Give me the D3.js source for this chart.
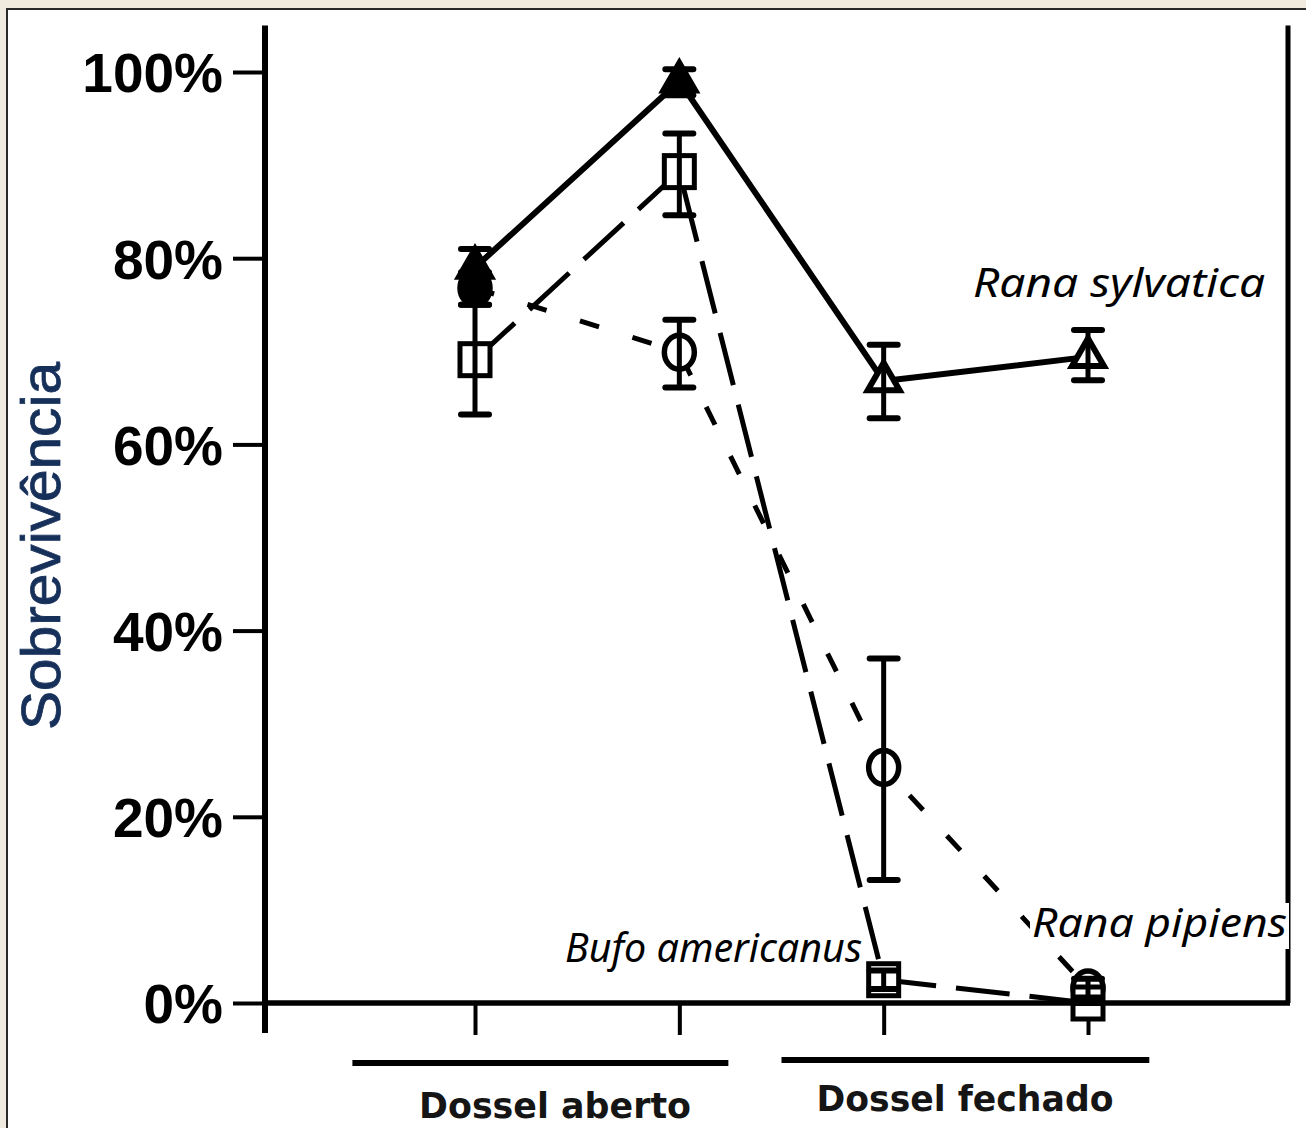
<!DOCTYPE html>
<html><head><meta charset="utf-8">
<script src="https://cdn.jsdelivr.net/npm/d3@7"></script>
<style>
html,body{margin:0;padding:0;background:#f1eadf;}
svg{display:block;}
</style></head>
<body>
<svg id="chart" width="1306" height="1128"></svg>
<script>
// ---- data ----
const sites = ["Aberto 1", "Aberto 2", "Fechado 1", "Fechado 2"];
const groups = ["Dossel aberto", "Dossel fechado"];
const groupSites = [["Aberto 1", "Aberto 2"], ["Fechado 1", "Fechado 2"]];
const yTicks = [0, 20, 40, 60, 80, 100];
const speciesNames = ["Rana sylvatica", "Bufo americanus", "Rana pipiens"];

const sylvatica   = [79.0, 99.0, 66.8, 69.4];
const sylvaticaLo = [77.0, 97.5, 62.8, 66.9];
const sylvaticaHi = [81.0, 100.3, 70.7, 72.3];

const bufo   = [69.1, 89.3, 2.5, 0.0];
const bufoLo = [63.2, 84.6, 1.5, 0.0];
const bufoHi = [75.0, 93.4, 3.5, 0.0];

const pipiens   = [76.8, 69.9, 25.3, 1.6];
const pipiensLo = [75.0, 66.1, 13.2, 0.6];
const pipiensHi = [78.5, 73.4, 37.0, 2.6];

// ---- layout ----
const svg = d3.select("#chart");
svg.append("rect").attr("x", 7).attr("y", 9).attr("width", 1310).attr("height", 1130)
  .attr("fill", "#ffffff").attr("stroke", "#2a2a2a").attr("stroke-width", 2);

const x = d3.scalePoint().domain(sites).range([475, 1088]);
const y = d3.scaleLinear().domain([0, 100]).range([1003, 72]);
const xLeft = 265, xRight = 1288;
const step = x.step();

const g = svg.append("g");

// frame lines
g.append("line").attr("x1", xLeft).attr("x2", xLeft).attr("y1", y(105)).attr("y2", y(0) + 30)
  .attr("stroke", "#000").attr("stroke-width", 6);
g.append("line").attr("x1", xRight).attr("x2", xRight).attr("y1", y(105)).attr("y2", y(0))
  .attr("stroke", "#000").attr("stroke-width", 5);
g.append("line").attr("x1", xLeft).attr("x2", xRight + 2).attr("y1", y(0)).attr("y2", y(0))
  .attr("stroke", "#000").attr("stroke-width", 5.5);

// y axis
const yAxis = d3.axisLeft(y).tickValues(yTicks).tickSize(32).tickPadding(10)
  .tickFormat(d => d + "%");
const ya = g.append("g").attr("transform", `translate(${xLeft},0)`).call(yAxis);
ya.select(".domain").remove();
ya.selectAll(".tick line").attr("stroke", "#000").attr("stroke-width", 4);
ya.selectAll(".tick text").attr("fill", "#000")
  .style("font-family", "'Liberation Sans', Arial, sans-serif")
  .style("font-size", "55px").style("font-weight", "bold")
  .attr("dy", "0.36em");

// x axis ticks
const xAxis = d3.axisBottom(x).tickSize(32).tickFormat("");
const xa = g.append("g").attr("transform", `translate(0,${y(0)})`).call(xAxis);
xa.select(".domain").remove();
xa.selectAll(".tick line").attr("stroke", "#000").attr("stroke-width", 4);

// group bars and labels
const groupExt = [[-0.6, 0.24], [-0.5, 0.3]];
const groupLabelY = [1118, 1111];
const groupBarY = [1063, 1060];
groups.forEach((name, i) => {
  const a = x(groupSites[i][0]) + groupExt[i][0] * step;
  const b = x(groupSites[i][1]) + groupExt[i][1] * step;
  g.append("line").attr("x1", a).attr("x2", b).attr("y1", groupBarY[i]).attr("y2", groupBarY[i])
    .attr("stroke", "#000").attr("stroke-width", 6);
  g.append("text").attr("x", i === 0 ? 555 : 965).attr("y", groupLabelY[i])
    .attr("text-anchor", "middle").attr("fill", "#151515")
    .style("font-family", "'DejaVu Sans', sans-serif").style("font-size", "36px")
    .style("font-weight", "bold")
    .attr("textLength", i === 0 ? 272 : 297).attr("lengthAdjust", "spacingAndGlyphs")
    .text(name);
});

// y label
g.append("text").attr("transform", "translate(60,546) rotate(-90)")
  .attr("text-anchor", "middle").attr("fill", "#16305a")
  .style("font-family", "'Liberation Sans', Arial, sans-serif").style("font-size", "56px")
  .attr("stroke", "#16305a").attr("stroke-width", 0.8)
  .attr("textLength", 368).attr("lengthAdjust", "spacingAndGlyphs")
  .text("Sobrevivência");

// series
const series = [
  {name: speciesNames[0], v: sylvatica, lo: sylvaticaLo, hi: sylvaticaHi, dash: null, w: 6, shape: "tri"},
  {name: speciesNames[1], v: bufo, lo: bufoLo, hi: bufoHi, dash: "54,20", w: 5, shape: "sq"},
  {name: speciesNames[2], v: pipiens, lo: pipiensLo, hi: pipiensHi, dash: "20,35", w: 5, shape: "circ"}
];

const line = d3.line().x((d, i) => x(sites[i])).y(d => y(d));
series.forEach(s => {
  g.append("path").attr("d", line(s.v)).attr("fill", "none").attr("stroke", "#000")
    .attr("stroke-width", s.w).attr("stroke-dasharray", s.dash).attr("stroke-linejoin", "round");
});

// markers
series.slice().reverse().forEach(s => {
  s.v.forEach((v, i) => {
    const cx = x(sites[i]), cy = y(v);
    if (s.shape === "tri") {
      const tri = d3.symbol().type(d3.symbolTriangle).size(440);
      g.append("path").attr("d", tri()).attr("transform", `translate(${cx},${cy})`)
        .attr("fill", i < 2 ? "#000" : "#fff").attr("stroke", "#000").attr("stroke-width", 6);
    } else if (s.shape === "sq") {
      g.append("rect").attr("x", cx - 15).attr("y", cy - 16).attr("width", 30).attr("height", 32)
        .attr("fill", "#fff").attr("stroke", "#000").attr("stroke-width", 5);
    } else {
      g.append("ellipse").attr("cx", cx).attr("cy", cy).attr("rx", 15).attr("ry", 17)
        .attr("fill", i === 0 ? "#000" : "#fff").attr("stroke", "#000").attr("stroke-width", 5.5);
    }
  });
});

// error bars
series.forEach(s => {
  s.v.forEach((v, i) => {
    const cx = x(sites[i]);
    const y1 = y(s.lo[i]), y2 = y(s.hi[i]);
    g.append("line").attr("x1", cx).attr("x2", cx).attr("y1", y1).attr("y2", y2)
      .attr("stroke", "#000").attr("stroke-width", 5);
    [y1, y2].forEach(yy => {
      g.append("line").attr("x1", cx - 14).attr("x2", cx + 14).attr("y1", yy).attr("y2", yy)
        .attr("stroke", "#000").attr("stroke-width", 6).attr("stroke-linecap", "round");
    });
  });
});

// species labels
const labelFont = "'Noto Sans', 'Open Sans', sans-serif";
const labels = [
  {t: speciesNames[0], x: 973, y: 297, w: 292, bg: false},
  {t: speciesNames[1], x: 565, y: 962, w: 297, bg: false},
  {t: speciesNames[2], x: 1032, y: 937, w: 255, bg: true}
];
labels.forEach(l => {
  if (l.bg) {
    g.append("rect").attr("x", l.x - 2).attr("y", l.y - 34).attr("width", l.w + 4).attr("height", 46)
      .attr("fill", "#fff");
  }
  g.append("text").attr("x", l.x).attr("y", l.y).attr("fill", "#000")
    .style("font-family", labelFont).style("font-size", "40px").style("font-style", "italic")
    .attr("textLength", l.w).attr("lengthAdjust", "spacingAndGlyphs")
    .text(l.t);
});
</script>
</body></html>
